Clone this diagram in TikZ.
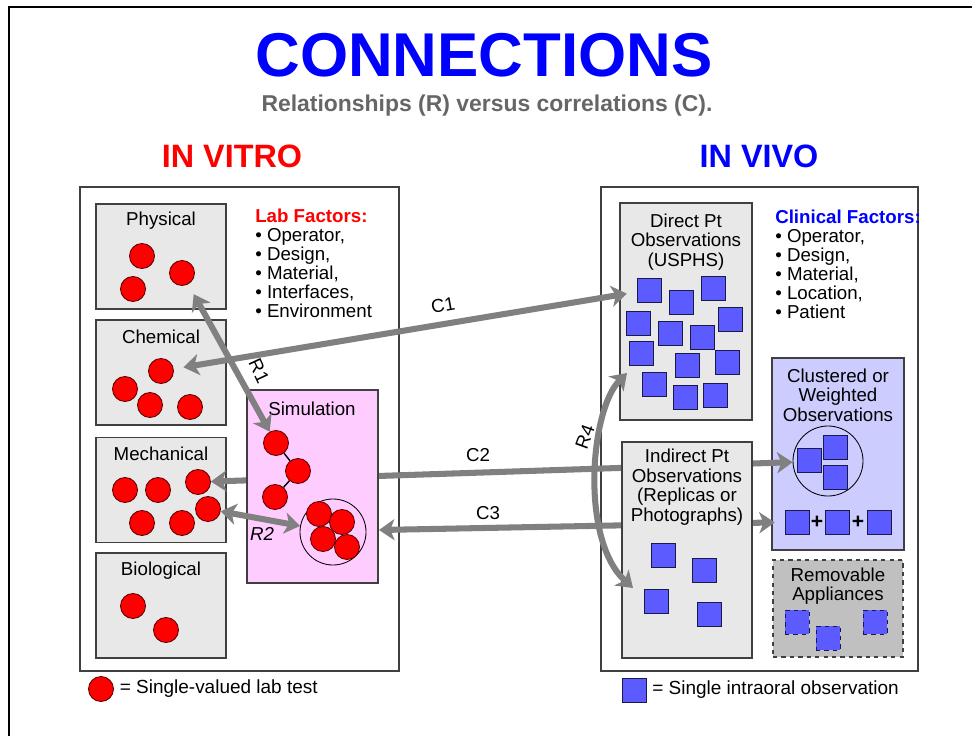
\documentclass[tikz,border=0pt]{standalone}
\usepackage{fontspec}
\setmainfont{Liberation Sans}
\usetikzlibrary{arrows.meta, positioning, calc}

\definecolor{boxgray}{HTML}{E8E8E8}
\definecolor{boxline}{HTML}{404040}
\definecolor{simpink}{HTML}{FFCCFF}
\definecolor{clulilac}{HTML}{CCCCFF}
\definecolor{remgray}{HTML}{C0C0C0}
\definecolor{labred}{HTML}{FF0000}
\definecolor{dotline}{HTML}{5A0000}
\definecolor{obsblue}{HTML}{5B5BFF}
\definecolor{sqline}{HTML}{1A1A4A}
\definecolor{linkgray}{HTML}{808080}
\definecolor{subgray}{HTML}{666666}

\tikzset{
  catbox/.style={draw=boxline, fill=boxgray, line width=0.8pt, inner sep=0pt},
  boxtitle/.style={font=\fontsize{13.3}{13.9}\selectfont, align=center, inner sep=0pt},
  labdot/.style={circle, draw=dotline, fill=labred, line width=0.6pt, minimum size=0.625cm, inner sep=0pt},
  obssq/.style={draw=sqline, fill=obsblue, line width=0.6pt, minimum size=0.6cm, inner sep=0pt},
  link/.style={draw=linkgray, line width=4.3pt,
    arrows={Stealth[length=11pt,width=15pt,inset=3pt]-Stealth[length=11pt,width=15pt,inset=3pt]}},
  linklabel/.style={font=\fontsize{13.3}{16}\selectfont, inner sep=0pt},
  factors/.style={font=\fontsize{13.3}{13.5}\selectfont, align=left, anchor=north west, inner sep=0pt},
}

\begin{document}
\begin{tikzpicture}[x=0.025cm, y=-0.025cm]
  \useasboundingbox (0,0) rectangle (972,736);

  % frame lines
  \draw[line width=2pt] (9,736) -- (9,7) -- (972,7);

  % headings
  \node[font=\fontsize{44}{48}\bfseries\selectfont, text=blue, inner sep=0pt] (title) at (484,55) {CONNECTIONS};
  \node[font=\fontsize{16.3}{18}\bfseries\selectfont, text=subgray, anchor=base, inner sep=0pt] (subtitle) at (487,111) {Relationships (R) versus correlations (C).};
  \node[font=\fontsize{23}{26}\bfseries\selectfont, text=red, anchor=base, inner sep=0pt] (vitro) at (232,167) {IN VITRO};
  \node[font=\fontsize{23}{26}\bfseries\selectfont, text=blue, anchor=base, inner sep=0pt] (vivo) at (759,167) {IN VIVO};

  % the two panels
  \draw[boxline, line width=0.8pt] (80,187) rectangle (399,671);
  \draw[boxline, line width=0.8pt] (601,187) rectangle (918,671);

  % lab test boxes
  \foreach \nm/\ty in {phys/256.5, chem/372.5, mech/490, bio/605.5}
    \node[catbox, minimum width=3.25cm, minimum height=2.625cm] (\nm) at (161,\ty) {};
  \node[boxtitle] at (161,221) {Physical};
  \node[boxtitle] at (161,337) {Chemical};
  \node[boxtitle] at (161,454) {Mechanical};
  \node[boxtitle] at (161,571) {Biological};

  \foreach \x/\y [count=\i] in {142/256, 182/273, 133/289}
    \node[labdot] (phys\i) at (\x,\y) {};
  \foreach \x/\y [count=\i] in {161/371, 125/389, 150/405, 190/407}
    \node[labdot] (chem\i) at (\x,\y) {};
  \foreach \x/\y [count=\i] in {125/490, 158/490, 198/482, 142/523, 182/523, 208/509}
    \node[labdot] (mech\i) at (\x,\y) {};
  \foreach \x/\y [count=\i] in {133/606, 166/630}
    \node[labdot] (bio\i) at (\x,\y) {};

  % in vivo boxes
  \node[catbox, minimum width=3.3cm, minimum height=5.425cm] (direct) at (686,311.5) {};
  \node[boxtitle] at (686,242) {Direct Pt\\Observations\\(USPHS)};
  \foreach \x/\y [count=\i] in {649/290, 681/302, 713/288, 638/323, 670/333, 702/337, 730/319,
                                641/353, 687/365, 727/362, 654/384, 685/397, 715/395}
    \node[obssq] (dir\i) at (\x,\y) {};

  \node[catbox, fill=clulilac, minimum width=3.3cm, minimum height=4.8cm] (cluster) at (838,454) {};
  \node[boxtitle] at (838,395) {Clustered or\\Weighted\\Observations};
  \node[circle, draw, line width=0.6pt, minimum size=1.75cm, inner sep=0pt] (clucirc) at (828,461) {};
  \foreach \x/\y [count=\i] in {809/460, 835/447, 835/477}
    \node[obssq] (clu\i) at (\x,\y) {};
  \foreach \x [count=\i] in {797, 837, 879}
    \node[obssq] (plus\i) at (\x,522) {};
  \node[font=\fontsize{15}{16}\bfseries\selectfont, inner sep=0pt] at (817,522) {+};
  \node[font=\fontsize{15}{16}\bfseries\selectfont, inner sep=0pt] at (858,522) {+};

  \node[catbox, fill=remgray, dashed, minimum width=3.25cm, minimum height=2.425cm] (remove) at (838,608.5) {};
  \node[boxtitle] at (838,586) {Removable\\Appliances};
  \foreach \x/\y [count=\i] in {797/622, 828/638, 875/622}
    \node[obssq, dashed] (rem\i) at (\x,\y) {};

  % correlations C2 and C3 (run behind the boxes)
  \draw[link] (mech3) -- (clucirc);
  \coordinate (c3end) at (379,530);
  \draw[link, shorten >=7pt] (c3end) -- (plus1);
  \node[linklabel] (c2lab) at (478,455) {C2};
  \node[linklabel] (c3lab) at (488,513) {C3};

  % simulation box
  \node[catbox, fill=simpink, minimum width=3.275cm, minimum height=4.825cm] (sim) at (312.5,486.5) {};
  \node[boxtitle] at (312,409) {Simulation};
  \foreach \x/\y [count=\i] in {276/443, 298/471, 275/497}
    \node[labdot] (sim\i) at (\x,\y) {};
  \draw[line width=1pt] (sim1) -- (sim2) -- (sim3);
  \node[circle, draw, line width=0.6pt, minimum size=1.65cm, inner sep=0pt] (simcirc) at (333,532) {};
  \foreach \x/\y [count=\i] in {319/514, 342/522, 323/539, 347/547}
    \node[labdot] (simc\i) at (\x,\y) {};

  % indirect observations
  \node[catbox, minimum width=3.25cm, minimum height=5.4cm] (indirect) at (687,550) {};
  \node[boxtitle] at (687,487) {Indirect Pt\\Observations\\(Replicas or\\Photographs)};
  \foreach \x/\y [count=\i] in {663/555, 704/570, 656/601, 709/614}
    \node[obssq] (ind\i) at (\x,\y) {};

  % factor lists
  \node[factors] (labfac) at (255,209)
    {\textcolor{red}{\bfseries Lab Factors:}\\\textbullet{} Operator,\\\textbullet{} Design,\\\textbullet{} Material,\\\textbullet{} Interfaces,\\\textbullet{} Environment};
  \node[factors] (clinfac) at (775,210)
    {\textcolor{blue}{\bfseries Clinical Factors:}\\\textbullet{} Operator,\\\textbullet{} Design,\\\textbullet{} Material,\\\textbullet{} Location,\\\textbullet{} Patient};

  % relationships and C1
  \draw[link, shorten <=7pt, shorten >=7pt] (chem1) -- (dir1);
  \node[linklabel, rotate=10] (c1lab) at (443,305) {C1};
  \draw[link, shorten <=8pt] (phys2) -- (sim1);
  \node[linklabel, rotate=-65] (r1lab) at (259,371) {R1};
  \draw[link] (mech6) -- (simcirc);
  \node[linklabel, font=\fontsize{13.3}{16}\itshape\selectfont] (r2lab) at (262,534) {R2};
  \coordinate (r4top) at (627,373);
  \coordinate (r4bot) at (633,588);
  \draw[link] (r4top) .. controls (590,410) and (580,540) .. (r4bot);
  \node[linklabel, rotate=70] (r4lab) at (585,437) {R4};

  % legends
  \node[labdot] (keydot) at (101,689) {};
  \node[linklabel, font=\fontsize{13.5}{16}\selectfont, right=4pt of keydot] {= Single-valued lab test};
  \node[obssq] (keysq) at (634,690) {};
  \node[linklabel, font=\fontsize{13.5}{16}\selectfont, right=4pt of keysq] {= Single intraoral observation};
\end{tikzpicture}
\end{document}
